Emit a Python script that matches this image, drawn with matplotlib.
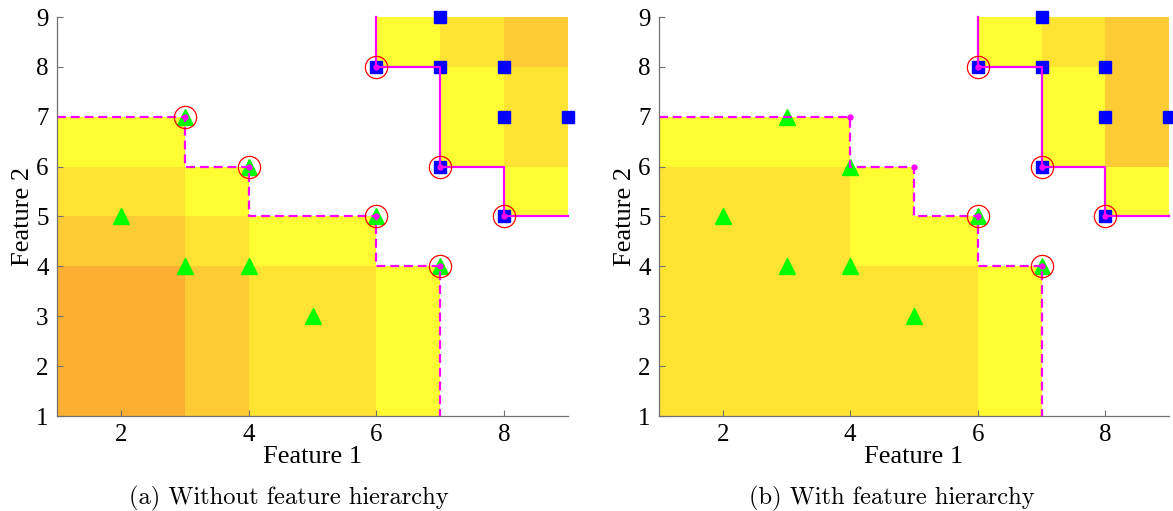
import numpy as np
import matplotlib
matplotlib.use("Agg")
import matplotlib.pyplot as plt
from matplotlib.colors import ListedColormap

# training samples (same in both panels)
tri_x = [2, 3, 3, 4, 4, 5, 6, 7]
tri_y = [5, 7, 4, 6, 4, 3, 5, 4]
sq_x = [6, 7, 7, 8, 8, 9, 7, 8]
sq_y = [8, 9, 8, 8, 7, 7, 6, 5]

# selected points (circled)
sel_a_x = [3, 4, 6, 7, 6, 7, 8]
sel_a_y = [7, 6, 5, 4, 8, 6, 5]
sel_b_x = [6, 7, 6, 7, 8]
sel_b_y = [5, 4, 8, 6, 5]

# lower boundary (dashed) and upper boundary (solid)
low_a_x = [1, 3, 3, 4, 4, 6, 6, 7, 7]
low_a_y = [7, 7, 6, 6, 5, 5, 4, 4, 1]
low_a_dots_x = [3, 4, 6, 7]
low_a_dots_y = [7, 6, 5, 4]
low_b_x = [1, 4, 4, 5, 5, 6, 6, 7, 7]
low_b_y = [7, 7, 6, 6, 5, 5, 4, 4, 1]
low_b_dots_x = [4, 5, 6, 7]
low_b_dots_y = [7, 6, 5, 4]
up_x = [6, 6, 7, 7, 8, 8, 9]
up_y = [9, 8, 8, 6, 6, 5, 5]
up_dots_x = [6, 7, 8]
up_dots_y = [8, 6, 5]

# shading level per unit cell, rows y=1..8, cols x=1..8 (-1 = empty)
levels_a = [
    [3, 3, 2, 1, 1, 0, -1, -1],
    [3, 3, 2, 1, 1, 0, -1, -1],
    [3, 3, 2, 1, 1, 0, -1, -1],
    [2, 2, 1, 0, 0, -1, -1, -1],
    [1, 1, 0, -1, -1, -1, -1, 0],
    [0, 0, -1, -1, -1, -1, 0, 1],
    [-1, -1, -1, -1, -1, -1, 0, 1],
    [-1, -1, -1, -1, -1, 0, 1, 2],
]
levels_b = [
    [1, 1, 1, 1, 1, 0, -1, -1],
    [1, 1, 1, 1, 1, 0, -1, -1],
    [1, 1, 1, 1, 1, 0, -1, -1],
    [1, 1, 1, 0, 0, -1, -1, -1],
    [1, 1, 1, 0, -1, -1, -1, 0],
    [0, 0, 0, -1, -1, -1, 0, 2],
    [-1, -1, -1, -1, -1, -1, 0, 2],
    [-1, -1, -1, -1, -1, 0, 1, 2],
]

cmap = ListedColormap(["#FFFC33", "#FEE333", "#FDCB33", "#FBAF33"])
serif = ["Liberation Serif", "DejaVu Serif"]

fig = plt.figure(figsize=(11.73, 5.11), dpi=100)
ax_a = fig.add_axes([57 / 1173, 95 / 511, 511 / 1173, 399 / 511])
ax_b = fig.add_axes([659 / 1173, 95 / 511, 510 / 1173, 399 / 511])


def draw_panel(ax, levels, low_x, low_y, ldx, ldy, sel_x, sel_y):
    edges = np.arange(1, 10)
    grid = np.ma.masked_less(np.array(levels, dtype=float), 0)
    ax.pcolormesh(edges, edges, grid, cmap=cmap, vmin=-0.5, vmax=3.5, zorder=1)

    ax.plot(tri_x, tri_y, "^", ms=11.5, color="#00FF00", mec="#00FF00",
            zorder=3, clip_on=False)
    ax.plot(sq_x, sq_y, "s", ms=8.5, color="#0000FF", mec="#0000FF",
            zorder=3, clip_on=False)

    ax.plot(low_x, low_y, "--", color="#FF00FF", lw=1.6, dashes=(4, 2.2),
            zorder=4, clip_on=False)
    ax.plot(ldx, ldy, "o", ms=3.5, color="#FF00FF", zorder=4, clip_on=False)
    ax.plot(up_x, up_y, "-", color="#FF00FF", lw=1.6, zorder=4, clip_on=False)
    ax.plot(up_dots_x, up_dots_y, "o", ms=3.5, color="#FF00FF", zorder=4,
            clip_on=False)
    ax.plot(sel_x, sel_y, "o", ms=16, mfc="none", mec="#FF0000", mew=0.9,
            zorder=5, clip_on=False)

    ax.set_xlim(1, 9)
    ax.set_ylim(1, 9)
    ax.set_xticks([2, 4, 6, 8])
    ax.set_yticks(range(1, 10))
    for s in ["top", "right"]:
        ax.spines[s].set_visible(False)
    for s in ["left", "bottom"]:
        ax.spines[s].set_color("#707070")
        ax.spines[s].set_linewidth(0.9)
        ax.spines[s].set_zorder(6)
    ax.tick_params(direction="in", length=4, width=0.8, color="#707070",
                   labelsize=18, pad=6)
    for lab in ax.get_xticklabels() + ax.get_yticklabels():
        lab.set_family(serif)

    ax.set_xlabel("Feature 1", fontsize=19, family=serif)
    ax.set_ylabel("Feature 2", fontsize=19, family=serif)
    ax.xaxis.set_label_coords(0.5, -0.074)
    ax.yaxis.set_label_coords(-0.045, 0.5)


draw_panel(ax_a, levels_a, low_a_x, low_a_y, low_a_dots_x, low_a_dots_y,
           sel_a_x, sel_a_y)
draw_panel(ax_b, levels_b, low_b_x, low_b_y, low_b_dots_x, low_b_dots_y,
           sel_b_x, sel_b_y)

fig.text(289 / 1173, 0.024, "(a) Without feature hierarchy", ha="center",
         va="center", fontsize=17.6, family="cmr10")
fig.text(892 / 1173, 0.024, "(b) With feature hierarchy", ha="center",
         va="center", fontsize=17.6, family="cmr10")

fig.savefig("out.png", dpi=100)
